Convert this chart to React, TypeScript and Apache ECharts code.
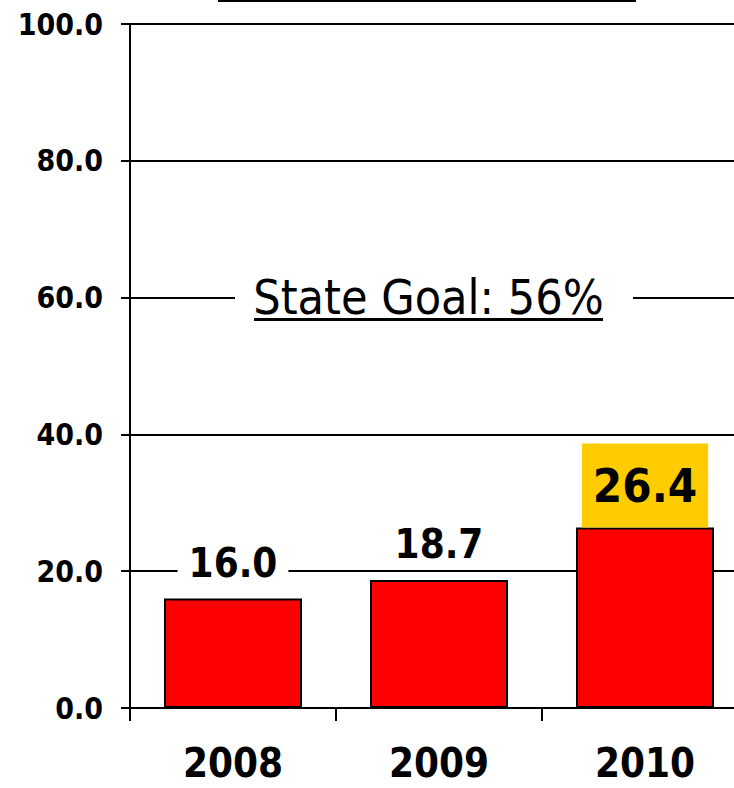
import React, { useEffect, useRef } from "react";
import * as echarts from "echarts";

const categories = ["2008", "2009", "2010"];
const values = [16.0, 18.7, 26.4];
const highlightIndex = 2;
const goalText = "State Goal: 56%";
const yMin = 0;
const yMax = 100;
const yInterval = 20;

const FONT = "'DejaVu Sans Condensed', 'DejaVu Sans', sans-serif";

export default function App() {
  const ref = useRef<HTMLDivElement>(null);
  useEffect(() => {
    document.body.style.margin = "0";
    if (!ref.current) return;
    const chart = echarts.init(ref.current, undefined, { renderer: "svg" });
    const data = values.map((v, i) =>
      i === highlightIndex
        ? {
            value: v,
            label: {
              fontSize: 47,
              lineHeight: 46,
              backgroundColor: "#FFCC00",
              padding: [19, 11],
              distance: 0,
            },
          }
        : { value: v }
    );
    chart.setOption({
      animation: false,
      backgroundColor: "#fff",
      grid: { left: 130, top: 24, right: 0, bottom: 80, containLabel: false },
      xAxis: {
        type: "category",
        data: categories,
        axisLine: { lineStyle: { color: "#000", width: 2 } },
        axisTick: { show: true, length: 13, lineStyle: { color: "#000", width: 2 } },
        axisLabel: {
          color: "#000",
          fontSize: 40,
          lineHeight: 32,
          fontWeight: "bold",
          fontFamily: FONT,
          margin: 39,
        },
      },
      yAxis: {
        type: "value",
        min: yMin,
        max: yMax,
        interval: yInterval,
        axisLine: { show: true, lineStyle: { color: "#000", width: 2 } },
        axisTick: { show: true, length: 9, lineStyle: { color: "#000", width: 2 } },
        axisLabel: {
          color: "#000",
          fontSize: 30,
          fontWeight: "bold",
          fontFamily: FONT,
          margin: 27,
          formatter: (v: number) => v.toFixed(1),
        },
        splitLine: { show: true, lineStyle: { color: "#000", width: 2 } },
      },
      series: [
        {
          type: "bar",
          data,
          barWidth: "67%",
          itemStyle: { color: "#FF0000", borderColor: "#000", borderWidth: 2 },
          label: {
            show: true,
            position: "top",
            distance: 17,
            color: "#000",
            fontSize: 40,
            lineHeight: 38,
            fontWeight: "bold",
            fontFamily: FONT,
            backgroundColor: "#fff",
            padding: [0, 11],
            formatter: (p: any) => Number(p.value).toFixed(1),
          },
        },
      ],
      graphic: [
        {
          type: "line",
          z: 100,
          shape: { x1: 218, y1: 1, x2: 636, y2: 1 },
          style: { stroke: "#000", lineWidth: 2 },
        },
        {
          type: "rect",
          z: 100,
          shape: { x: 235, y: 276, width: 398, height: 46 },
          style: { fill: "#fff" },
        },
        {
          type: "text",
          z: 101,
          x: 428.5,
          y: 297,
          style: {
            text: goalText,
            fill: "#000",
            fontSize: 48,
            fontFamily: FONT,
            align: "center",
            verticalAlign: "middle",
          },
        },
        {
          type: "line",
          z: 101,
          shape: { x1: 254, y1: 319.5, x2: 603, y2: 319.5 },
          style: { stroke: "#000", lineWidth: 3 },
        },
      ],
    });
    return () => chart.dispose();
  }, []);
  return (
    <div style={{ width: 734, height: 788, overflow: "hidden", position: "relative" }}>
      <div ref={ref} style={{ width: 748, height: 788 }} />
    </div>
  );
}
